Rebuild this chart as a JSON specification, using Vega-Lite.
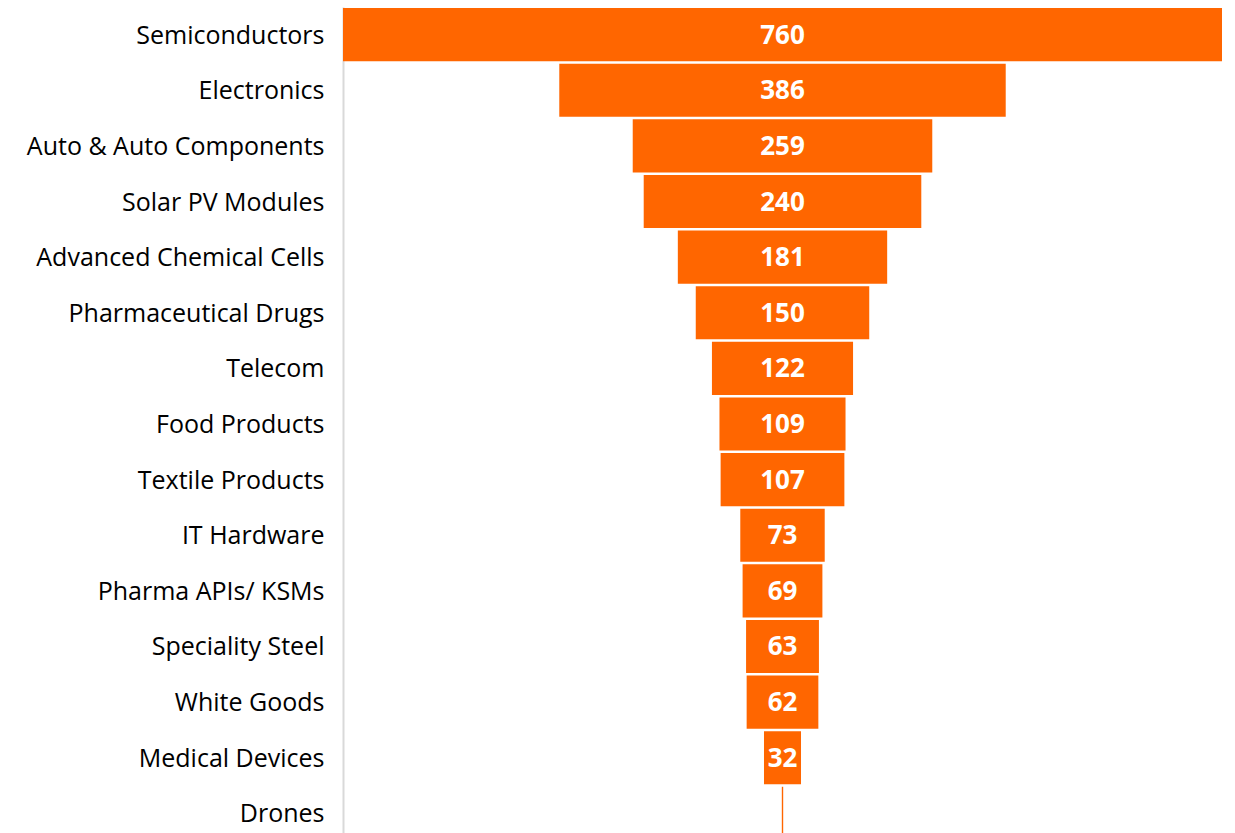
{
  "$schema": "https://vega.github.io/schema/vega-lite/v6.json",
  "autosize": "none",
  "width": 879,
  "height": 834,
  "padding": {"left": 343, "top": 7, "right": 13, "bottom": 0},
  "background": "white",
  "config": {"view": {"stroke": null}},
  "data": {"values": [
    {"sector": "Semiconductors", "value": 760},
    {"sector": "Electronics", "value": 386},
    {"sector": "Auto & Auto Components", "value": 259},
    {"sector": "Solar PV Modules", "value": 240},
    {"sector": "Advanced Chemical Cells", "value": 181},
    {"sector": "Pharmaceutical Drugs", "value": 150},
    {"sector": "Telecom", "value": 122},
    {"sector": "Food Products", "value": 109},
    {"sector": "Textile Products", "value": 107},
    {"sector": "IT Hardware", "value": 73},
    {"sector": "Pharma APIs/ KSMs", "value": 69},
    {"sector": "Speciality Steel", "value": 63},
    {"sector": "White Goods", "value": 62},
    {"sector": "Medical Devices", "value": 32},
    {"sector": "Drones", "value": 1.2}
  ]},
  "encoding": {
    "y": {
      "field": "sector", "type": "nominal", "sort": null,
      "scale": {"paddingInner": 0.045, "paddingOuter": 0.02},
      "axis": {
        "title": null, "ticks": false, "labelFont": "Open Sans", "labelFontSize": 25,
        "labelColor": "#000000", "labelPadding": 19, "domainColor": "#d9d9d9",
        "domainWidth": 2, "labelLimit": 400, "labelBaseline": "middle", "labelOffset": 1
      }
    }
  },
  "layer": [
    {
      "mark": {"type": "bar", "color": "#FF6600"},
      "encoding": {
        "x": {"field": "value", "type": "quantitative", "stack": "center",
              "scale": {"domain": [0, 760], "nice": false, "zero": false}, "axis": null}
      }
    },
    {
      "transform": [{"filter": "datum.value >= 5"}],
      "mark": {"type": "text", "color": "white", "font": "Open Sans", "fontWeight": "bold", "fontSize": 26, "align": "center", "baseline": "middle", "dy": 1},
      "encoding": {
        "x": {"datum": 380, "type": "quantitative"},
        "text": {"field": "value", "type": "quantitative"}
      }
    }
  ]
}
